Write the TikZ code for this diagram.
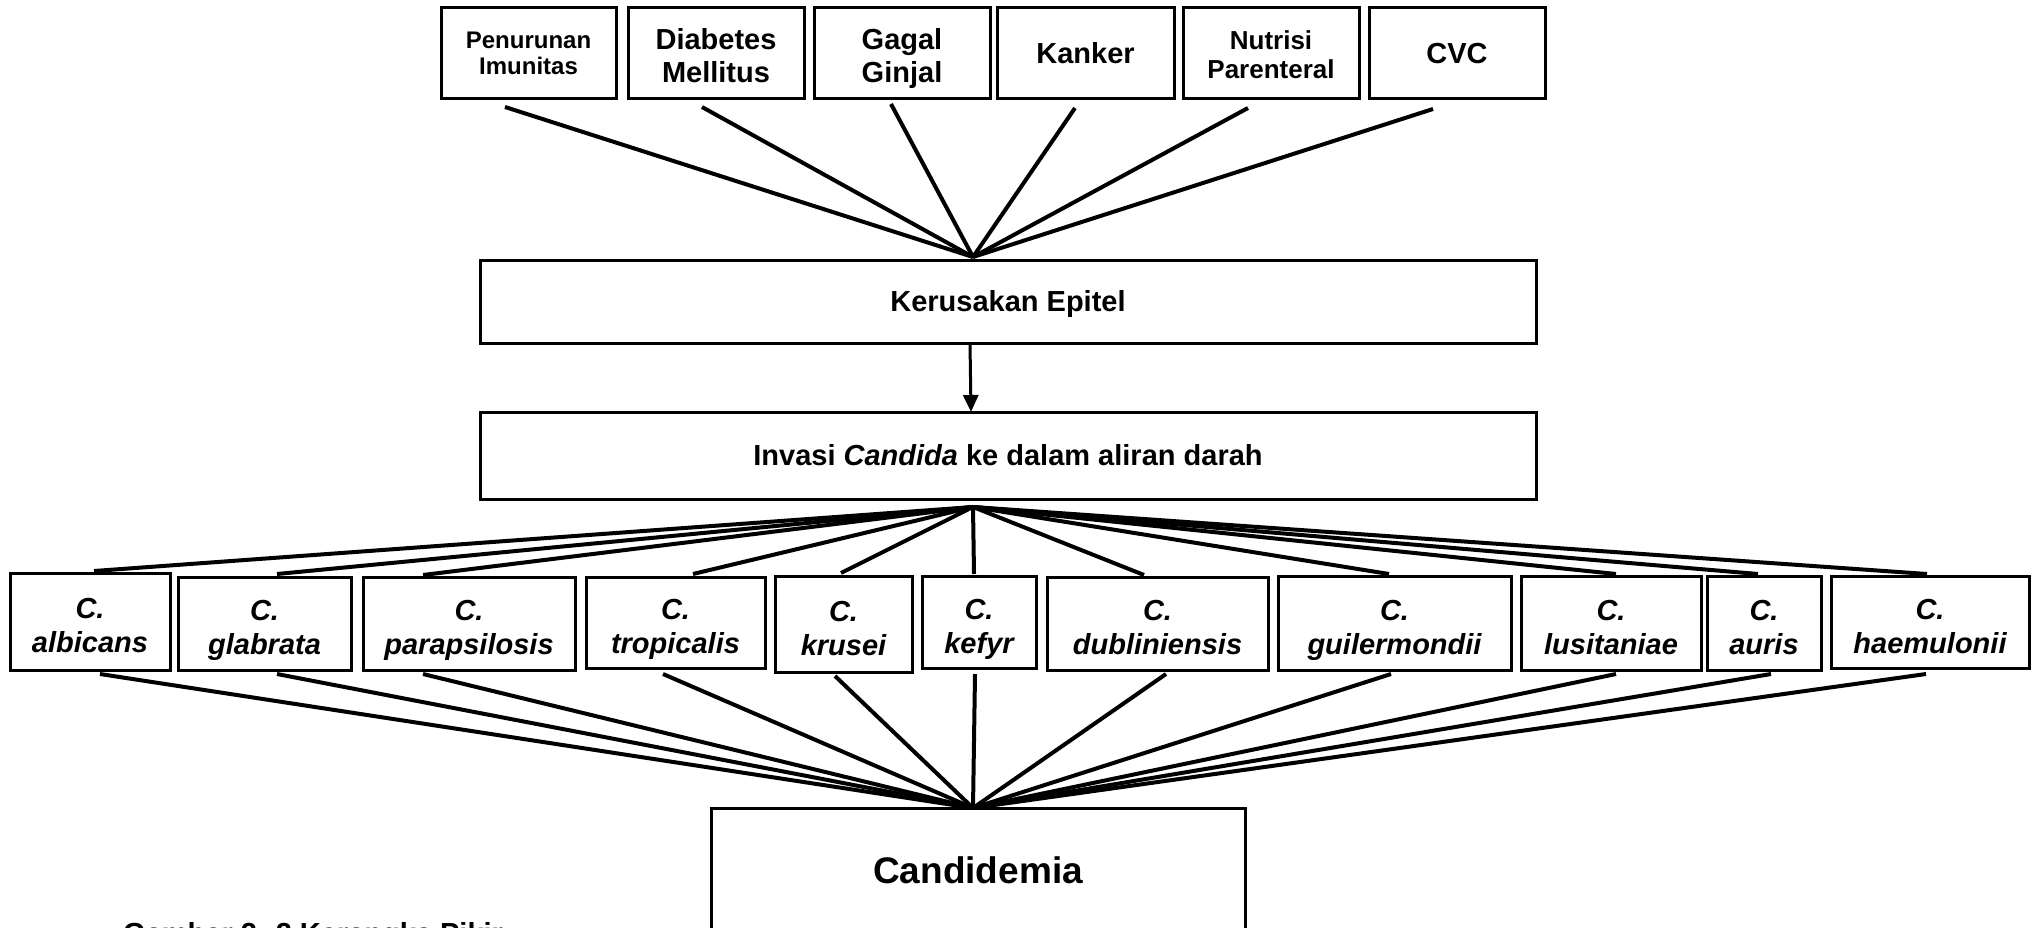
\documentclass[tikz,border=0pt]{standalone}
\usepackage{fontspec}
\setmainfont{Liberation Sans}
\usetikzlibrary{arrows.meta}
\newcommand\tlines[4]{\rule{0pt}{#3pt}#1\\#2\rule[-#4pt]{0pt}{0pt}}
\begin{document}
\begin{tikzpicture}[x=1pt,y=-1pt,
  box/.style={draw, line width=3pt, inner sep=0pt, align=center, font=\bfseries\fontsize{29}{33}\selectfont},
  onebox/.style={box, text height=20.8pt, text depth=0pt},
  spbox/.style={box, font=\bfseries\itshape\fontsize{29}{34}\selectfont},
  link/.style={line width=4pt}]
\fill[white] (0,0) rectangle (2039,928);
\useasboundingbox (0,0) rectangle (2039,928);

% top factors
\node[box, minimum width=175pt, minimum height=91pt, font=\bfseries\fontsize{24}{26}\selectfont] (f1) at (528.5,53.5) {\tlines{Penurunan}{Imunitas}{23}{6}};
\node[box, minimum width=176pt, minimum height=91pt] (f2) at (716,53.5) {\tlines{Diabetes}{Mellitus}{32}{7}};
\node[box, minimum width=176pt, minimum height=91pt] (f3) at (902,53.5) {\tlines{Gagal}{Ginjal}{32}{7}};
\node[onebox, minimum width=177pt, minimum height=91pt] (f4) at (1085.5,53.5) {Kanker};
\node[box, minimum width=176pt, minimum height=91pt, font=\bfseries\fontsize{26}{29}\selectfont] (f5) at (1271,53.5) {\tlines{Nutrisi}{Parenteral}{27}{6}};
\node[onebox, minimum width=176pt, minimum height=91pt] (f6) at (1457,53.5) {CVC};

% middle boxes
\node[onebox, minimum width=1056pt, minimum height=83pt] (ker) at (1008,301.5) {Kerusakan Epitel};
\node[onebox, minimum width=1056pt, minimum height=87pt] (inv) at (1008,455.5) {Invasi \textit{Candida} ke dalam aliran darah};

% species
\node[spbox, minimum width=160pt, minimum height=97pt] (s1) at (90,621.5) {\tlines{C.}{albicans}{35}{7}};
\node[spbox, minimum width=173pt, minimum height=93pt] (s2) at (264.5,623.5) {\tlines{C.}{glabrata}{35}{7}};
\node[spbox, minimum width=212pt, minimum height=93pt] (s3) at (469,623.5) {\tlines{C.}{parapsilosis}{35}{7}};
\node[spbox, minimum width=179pt, minimum height=91pt] (s4) at (675.5,622.5) {\tlines{C.}{tropicalis}{35}{7}};
\node[spbox, minimum width=137pt, minimum height=96pt] (s5) at (843.5,624) {\tlines{C.}{krusei}{35}{7}};
\node[spbox, minimum width=114pt, minimum height=92pt] (s6) at (979,622) {\tlines{C.}{kefyr}{35}{7}};
\node[spbox, minimum width=221pt, minimum height=93pt] (s7) at (1157.5,623.5) {\tlines{C.}{dubliniensis}{35}{7}};
\node[spbox, minimum width=233pt, minimum height=94pt] (s8) at (1394.5,623) {\tlines{C.}{guilermondii}{35}{7}};
\node[spbox, minimum width=180pt, minimum height=94pt] (s9) at (1611,623) {\tlines{C.}{lusitaniae}{35}{7}};
\node[spbox, minimum width=114pt, minimum height=94pt] (s10) at (1764,623) {\tlines{C.}{auris}{35}{7}};
\node[spbox, minimum width=198pt, minimum height=92pt] (s11) at (1930,622) {\tlines{C.}{haemulonii}{35}{7}};

% result
\node[box, minimum width=534pt, minimum height=124pt, text height=26.5pt, text depth=0pt, font=\bfseries\fontsize{37}{40}\selectfont] (cand) at (978,870) {Candidemia};

% caption (cut by the page edge, as in the reference)
\node[anchor=base west, inner sep=0pt, font=\bfseries\fontsize{29}{34}\selectfont] (cap) at (123,943) {Gambar 2. 2 Kerangka Pikir};

% coordinates for connector ends
\coordinate (kc) at (973,257);
\coordinate (ic) at (973,507);
\coordinate (cc) at (973,808);
\coordinate (f1s) at (505,107);
\coordinate (f2s) at (702,107);
\coordinate (f3s) at (891,104);
\coordinate (f4s) at (1075,108);
\coordinate (f5s) at (1248,108);
\coordinate (f6s) at (1433,109);

\foreach \f in {f1s,f2s,f3s,f4s,f5s,f6s} \draw[link] (\f) -- (kc);

% arrow
\coordinate (a1) at (970,343);
\coordinate (a2) at (971,412);
\draw[line width=3pt, -{Triangle[length=17pt,width=15pt]}] (a1) -- (a2);

% species top ends
\coordinate (t1) at (94,571);
\coordinate (t2) at (277,574);
\coordinate (t3) at (423,575);
\coordinate (t4) at (693,574);
\coordinate (t5) at (841,573);
\coordinate (t6) at (974,574);
\coordinate (t7) at (1144,575);
\coordinate (t8) at (1389,574);
\coordinate (t9) at (1616,574);
\coordinate (t10) at (1758,574);
\coordinate (t11) at (1927,574);
% species bottom starts
\coordinate (b1) at (100,674);
\coordinate (b2) at (277,674);
\coordinate (b3) at (423,674);
\coordinate (b4) at (663,674);
\coordinate (b5) at (835,676);
\coordinate (b6) at (975,674);
\coordinate (b7) at (1166,674);
\coordinate (b8) at (1391,674);
\coordinate (b9) at (1616,674);
\coordinate (b10) at (1771,674);
\coordinate (b11) at (1926,674);

\foreach \i in {1,...,11} {
  \draw[link] (ic) -- (t\i);
  \draw[link] (b\i) -- (cc);
}
\end{tikzpicture}
\end{document}
